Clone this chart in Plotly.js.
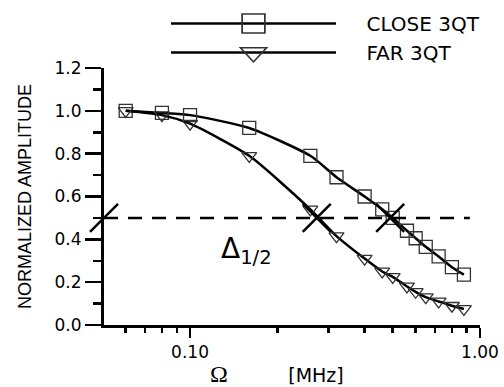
<!DOCTYPE html>
<html><head><meta charset="utf-8">
<script src="https://cdn.plot.ly/plotly-3.0.1.min.js"></script>
<style>html,body{margin:0;padding:0;background:#fff}#chart{width:504px;height:387px}</style>
</head><body><div id="chart"></div>
<script>
// ---- data ----
const seriesNames = ['CLOSE 3QT', 'FAR 3QT'];
const freqMHz  = [0.06, 0.08, 0.10, 0.16, 0.26, 0.32, 0.40, 0.46, 0.50, 0.56, 0.60, 0.65, 0.72, 0.80, 0.88];
const closeAmp = [1.00, 0.99, 0.98, 0.92, 0.79, 0.69, 0.60, 0.54, 0.50, 0.44, 0.405, 0.365, 0.32, 0.27, 0.235];
const farAmp   = [1.00, 0.98, 0.94, 0.79, 0.54, 0.415, 0.31, 0.25, 0.225, 0.18, 0.155, 0.13, 0.11, 0.09, 0.075];
const halfLevel = 0.5;
const halfMarkX = [0.0505, 0.2735, 0.49];
const halfMarkSymbols = ['line-ne', 'x-thin', 'x-thin'];
const xRange = [0.0505, 1.0];
const xTickVals = [0.1, 1.0];
const xTickText = ['0.10', '1.00'];
const xMinorVals = [0.06, 0.07, 0.08, 0.09, 0.2, 0.3, 0.4, 0.5, 0.6, 0.7, 0.8, 0.9];
const yRange = [0, 1.2];

const tickFont = {family: 'DejaVu Sans, Arial, sans-serif', size: 17, color: '#000'};
const pad = '\u00a0\u00a0\u00a0\u00a0';
const nb = n => '\u00a0'.repeat(n);

const traces = [
  {x: freqMHz, y: closeAmp, name: pad + seriesNames[0], type: 'scatter', mode: 'lines+markers',
   line: {color: '#000', width: 2.5, shape: 'spline', smoothing: 0.6},
   marker: {symbol: 'square-open', size: 13, color: '#333', line: {width: 1.3, color: '#333'}}},
  {x: freqMHz, y: farAmp, name: pad + seriesNames[1], type: 'scatter', mode: 'lines+markers',
   line: {color: '#000', width: 2.5, shape: 'spline', smoothing: 0.6},
   marker: {symbol: 'triangle-down-open', size: 13, color: '#333', line: {width: 1.3, color: '#333'}}},
  {x: halfMarkX, y: halfMarkX.map(() => halfLevel), type: 'scatter', mode: 'markers', showlegend: false,
   cliponaxis: false, hoverinfo: 'skip',
   marker: {symbol: halfMarkSymbols, size: 28, color: '#000', line: {width: 2.5, color: '#000'}}}
];

const plotL = 104, plotR = 480, plotT = 68, plotB = 325;
const layout = {
  width: 504, height: 387,
  margin: {l: plotL, r: 504 - plotR, t: plotT, b: 387 - plotB, autoexpand: false},
  paper_bgcolor: '#fff', plot_bgcolor: '#fff',
  font: {family: 'DejaVu Sans, Arial, sans-serif', color: '#000'},
  showlegend: true,
  legend: {x: (166 - plotL) / (plotR - plotL), y: 1 + (plotT - 4) / (plotB - plotT), xanchor: 'left', yanchor: 'top',
           font: {family: 'DejaVu Sans, Arial, sans-serif', size: 20, color: '#000'},
           itemwidth: 165, itemsizing: 'trace', bgcolor: 'rgba(0,0,0,0)', borderwidth: 0, tracegroupgap: 0},
  xaxis: {type: 'log', range: xRange.map(Math.log10), showgrid: false, zeroline: false,
          showline: true, linecolor: '#000', linewidth: 3,
          tickmode: 'array', tickvals: xTickVals, ticktext: xTickText,
          ticks: 'outside', ticklen: 10, tickwidth: 2.5, tickcolor: '#000', tickfont: tickFont,
          minor: {tickmode: 'array', tickvals: xMinorVals, ticks: 'outside', ticklen: 5, tickwidth: 2.5, tickcolor: '#000', showgrid: false},
          title: {text: '<span style="font-family:Liberation Serif;font-size:24px">Ω</span>' + nb(10) + '[MHz]' + nb(5) + '\u200b',
                  font: {family: 'DejaVu Sans, Arial, sans-serif', size: 19, color: '#000'}, standoff: 8},
          automargin: false},
  yaxis: {range: yRange, showgrid: false, zeroline: false,
          showline: true, linecolor: '#000', linewidth: 3,
          tick0: 0, dtick: 0.2, tickformat: '.1f',
          ticks: 'outside', ticklen: 16, tickwidth: 2.5, tickcolor: '#000', tickfont: tickFont,
          minor: {dtick: 0.1, ticks: 'outside', ticklen: 8, tickwidth: 2.5, tickcolor: '#000', showgrid: false},
          title: {text: 'NORMALIZED AMPLITUDE', font: {family: 'Liberation Sans, Arial, sans-serif', size: 18, color: '#000'}, standoff: 19},
          automargin: false},
  shapes: [
    {type: 'line', xref: 'paper', yref: 'y', x0: 0, x1: 0.973, y0: halfLevel, y1: halfLevel,
     line: {color: '#000', width: 2.5, dash: '14px,10px'}}
  ],
  annotations: [
    {xref: 'paper', yref: 'y', x: (219 - plotL) / (plotR - plotL), y: 0.35, xanchor: 'left', yanchor: 'middle', showarrow: false,
     text: 'Δ<sub>1/2</sub>', font: {family: 'DejaVu Sans, Arial, sans-serif', size: 28, color: '#000'}}
  ]
};

Plotly.newPlot('chart', traces, layout, {displayModeBar: false, staticPlot: true}).then(gd => {
  // the reference draws its legend symbols larger (and a little wider than tall) than the plotted markers
  gd.querySelectorAll('.legend .legendpoints path.scatterpts').forEach(p => {
    const t = p.getAttribute('transform') || '';
    p.setAttribute('transform', t + ' scale(1.75,1.45)');
    p.style.strokeWidth = '1px';
  });
});
</script></body></html>
